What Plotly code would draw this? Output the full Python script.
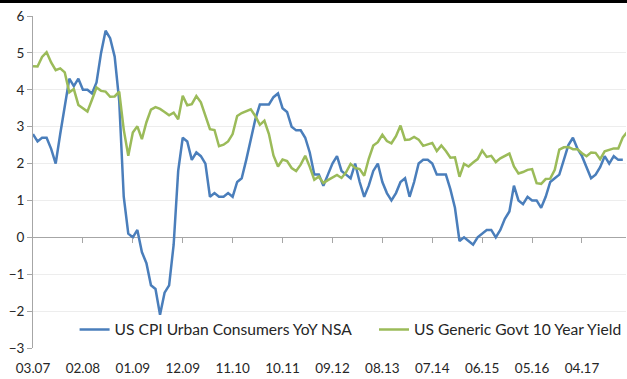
import pandas as pd
import plotly.graph_objects as go

# Monthly data, Mar 2007 onwards
months = pd.date_range("2007-03-01", periods=132, freq="MS").strftime("%m.%y").tolist()

cpi_yoy = [
    2.8, 2.6, 2.7, 2.7, 2.4, 2.0, 2.8, 3.5, 4.3, 4.1,                 # 2007 Mar-Dec
    4.3, 4.0, 4.0, 3.9, 4.2, 5.0, 5.6, 5.4, 4.9, 3.7, 1.1, 0.1,       # 2008
    0.0, 0.2, -0.4, -0.7, -1.3, -1.4, -2.1, -1.5, -1.3, -0.2, 1.8, 2.7,  # 2009
    2.6, 2.1, 2.3, 2.2, 2.0, 1.1, 1.2, 1.1, 1.1, 1.2, 1.1, 1.5,       # 2010
    1.6, 2.1, 2.7, 3.2, 3.6, 3.6, 3.6, 3.8, 3.9, 3.5, 3.4, 3.0,       # 2011
    2.9, 2.9, 2.7, 2.3, 1.7, 1.7, 1.4, 1.7, 2.0, 2.2, 1.8, 1.7,       # 2012
    1.6, 2.0, 1.5, 1.1, 1.4, 1.8, 2.0, 1.5, 1.2, 1.0, 1.2, 1.5,       # 2013
    1.6, 1.1, 1.5, 2.0, 2.1, 2.1, 2.0, 1.7, 1.7, 1.7, 1.3, 0.8,       # 2014
    -0.1, 0.0, -0.1, -0.2, 0.0, 0.1, 0.2, 0.2, 0.0, 0.2, 0.5, 0.7,    # 2015
    1.4, 1.0, 0.9, 1.1, 1.0, 1.0, 0.8, 1.1, 1.5, 1.6, 1.7, 2.1,       # 2016
    2.5, 2.7, 2.4, 2.2, 1.9, 1.6, 1.7, 1.9, 2.2, 2.0, 2.2, 2.1,       # 2017
    2.1,                                                              # 2018 Jan
]

govt_10y = [
    4.64, 4.63, 4.89, 5.02, 4.74, 4.53, 4.58, 4.47, 3.93, 4.02,                  # 2007
    3.59, 3.51, 3.41, 3.73, 4.06, 3.97, 3.95, 3.81, 3.82, 3.95, 2.92, 2.21,      # 2008
    2.84, 3.01, 2.66, 3.12, 3.46, 3.53, 3.48, 3.40, 3.31, 3.38, 3.20, 3.84,      # 2009
    3.58, 3.61, 3.83, 3.66, 3.29, 2.93, 2.91, 2.47, 2.51, 2.60, 2.80, 3.29,      # 2010
    3.37, 3.42, 3.47, 3.29, 3.05, 3.16, 2.80, 2.22, 1.92, 2.11, 2.07, 1.88,      # 2011
    1.80, 1.97, 2.21, 1.91, 1.56, 1.65, 1.47, 1.55, 1.63, 1.69, 1.61, 1.76,      # 2012
    1.99, 1.88, 1.85, 1.67, 2.13, 2.49, 2.58, 2.78, 2.61, 2.55, 2.74, 3.03,      # 2013
    2.64, 2.65, 2.72, 2.65, 2.48, 2.53, 2.56, 2.34, 2.49, 2.34, 2.16, 2.17,      # 2014
    1.64, 1.99, 1.92, 2.03, 2.12, 2.35, 2.18, 2.21, 2.04, 2.14, 2.21, 2.27,      # 2015
    1.92, 1.73, 1.77, 1.83, 1.85, 1.47, 1.45, 1.58, 1.59, 1.83, 2.38, 2.44,      # 2016
    2.45, 2.39, 2.39, 2.28, 2.20, 2.30, 2.29, 2.12, 2.33, 2.38, 2.41, 2.41,      # 2017
    2.71, 2.86,                                                                   # 2018
]

tick_labels = ["03.07", "02.08", "01.09", "12.09", "11.10", "10.11",
               "09.12", "08.13", "07.14", "06.15", "05.16", "04.17"]
y_ticks = [-3, -2, -1, 0, 1, 2, 3, 4, 5, 6]

BLUE = "#4A7EBB"
GREEN = "#9BBB59"
FONT = "Lato"
TXT = "#262626"

fig = go.Figure()
fig.add_trace(go.Scatter(x=months[:len(cpi_yoy)], y=cpi_yoy, mode="lines",
                         name="US CPI Urban Consumers YoY NSA", legend="legend",
                         line=dict(color=BLUE, width=2.5)))
fig.add_trace(go.Scatter(x=months[:len(govt_10y)], y=govt_10y, mode="lines",
                         name="US Generic Govt 10 Year Yield", legend="legend2",
                         line=dict(color=GREEN, width=2.5)))

leg_common = dict(orientation="h", y=0.055, xanchor="left", yanchor="middle",
                  bgcolor="rgba(255,255,255,0)",
                  font=dict(family=FONT, size=15.6, color=TXT))

xr = [0, 130.7]
fig.update_layout(
    width=627, height=379,
    margin=dict(l=33, r=0, t=16, b=31),
    paper_bgcolor="white", plot_bgcolor="white",
    font=dict(family=FONT, size=13, color=TXT),
    showlegend=True,
    legend=dict(x=0.07, **leg_common),
    legend2=dict(x=0.5747, **leg_common),
    xaxis=dict(type="category", range=xr, tickmode="array", tickvals=tick_labels,
               ticktext=tick_labels, showgrid=False, showline=False, zeroline=False,
               ticks="outside", ticklen=8, tickcolor="rgba(0,0,0,0)",
               tickfont=dict(family=FONT, size=13.5, color=TXT)),
    xaxis2=dict(type="category", overlaying="x", matches="x", range=xr,
                anchor="free", position=1/3, side="bottom",
                tickmode="array", tickvals=tick_labels[1:], showticklabels=False,
                showgrid=False, showline=False, zeroline=False,
                ticks="outside", ticklen=5, tickwidth=1, tickcolor="#A6A6A6"),
    yaxis=dict(range=[-3, 6], tickvals=y_ticks, showgrid=True, gridcolor="#EDEDED",
               gridwidth=1, zeroline=True, zerolinecolor="#A6A6A6", zerolinewidth=1,
               showline=True, linecolor="#A6A6A6", linewidth=1,
               ticks="outside", ticklen=5, tickcolor="#A6A6A6",
               tickfont=dict(family=FONT, size=13.5, color=TXT)),
)
# invisible trace so that the tick-mark axis at zero renders
fig.add_trace(go.Scatter(x=[months[0]], y=[None], xaxis="x2", showlegend=False,
                         hoverinfo="skip", mode="lines"))

# black band at the very top (cropped slide title area)
fig.add_shape(type="rect", xref="paper", yref="paper", x0=-0.1, x1=1.1,
              y0=1 + 13 / 332, y1=1 + 17 / 332, fillcolor="black", line_width=0,
              layer="above")

fig.write_html("out.html")
